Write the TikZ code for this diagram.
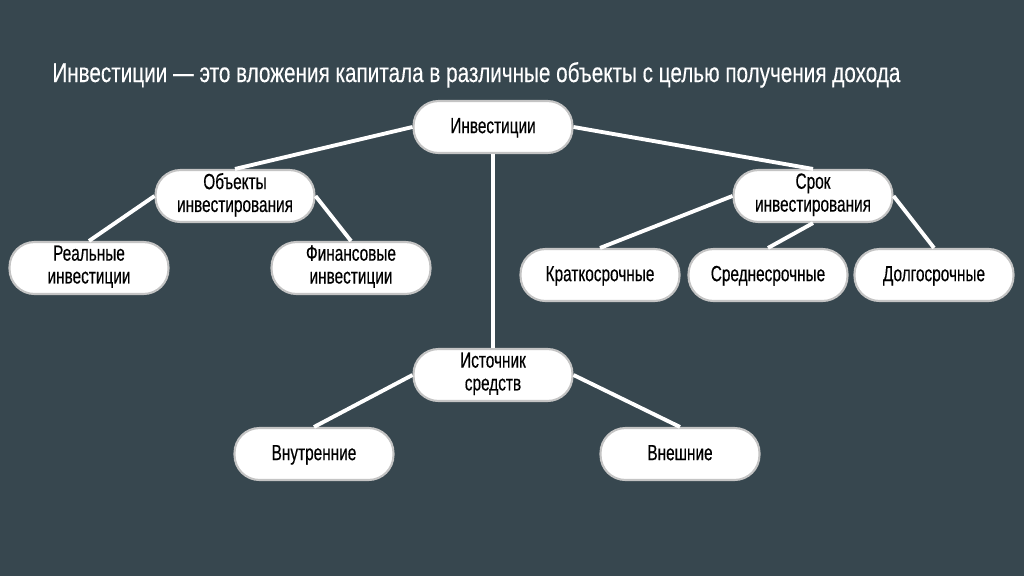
\documentclass[tikz,border=0pt]{standalone}
\usepackage{fontspec}
\setmainfont{Liberation Sans}[FakeStretch=0.7, FakeBold=0.4]
\newfontfamily\titlefont{Liberation Sans}[FakeStretch=0.76, FakeBold=0.3]
\definecolor{slate}{HTML}{37474F}
\definecolor{rim}{HTML}{C4C4C4}

\begin{document}
\begin{tikzpicture}[x=0.02cm, y=-0.02cm,
    pill/.style={fill=white, draw=rim, line width=1.2pt, rounded corners=0.5cm,
        minimum width=3.18cm, minimum height=1.04cm, align=center,
        font=\fontsize{12.5}{13}\selectfont, inner sep=1pt,
        execute at begin node=\rule{0pt}{11pt},
        execute at end node=\rule[-4pt]{0pt}{4pt}},
    twoline/.style={pill, execute at begin node=\rule{0pt}{14.4pt}},
    link/.style={white, line width=2.2pt}]
    % Background
    \fill[slate] (0,0) rectangle (1024,576);

    % Title
    \node[anchor=base west, text=white, font=\titlefont\fontsize{15.5}{17}\selectfont, inner sep=0pt] (title) at (52,82)
        {Инвестиции — это вложения капитала в различные объекты с целью получения дохода};

    % Top
    \node[pill] (inv) at (493,127) {Инвестиции};

    % Objects
    \node[twoline] (obj) at (235,196) {Объекты\\инвестирования};
    \node[twoline] (real) at (89,268) {Реальные\\инвестиции};
    \node[twoline] (fin) at (351,268) {Финансовые\\инвестиции};

    % Term
    \node[twoline] (term) at (813,196) {Срок\\инвестирования};
    \node[pill] (short) at (600,275) {Краткосрочные};
    \node[pill] (mid) at (768,275) {Среднесрочные};
    \node[pill] (long) at (934,275) {Долгосрочные};

    % Source
    \node[twoline] (src) at (493,375) {Источник\\средств};
    \node[pill] (inner) at (314,454) {Внутренние};
    \node[pill] (outer) at (680,454) {Внешние};

    % Links
    \draw[link] (inv.west) -- (obj.north);
    \draw[link] (inv.east) -- (term.north);
    \draw[link] (inv.south) -- (src.north);
    \draw[link] (obj.west) -- (real.north);
    \draw[link] (obj.east) -- (fin.north);
    \draw[link] (term.west) -- (short.north);
    \draw[link] (term.south) -- (mid.north);
    \draw[link] (term.east) -- (long.north);
    \draw[link] (src.west) -- (inner.north);
    \draw[link] (src.east) -- (outer.north);
\end{tikzpicture}
\end{document}
